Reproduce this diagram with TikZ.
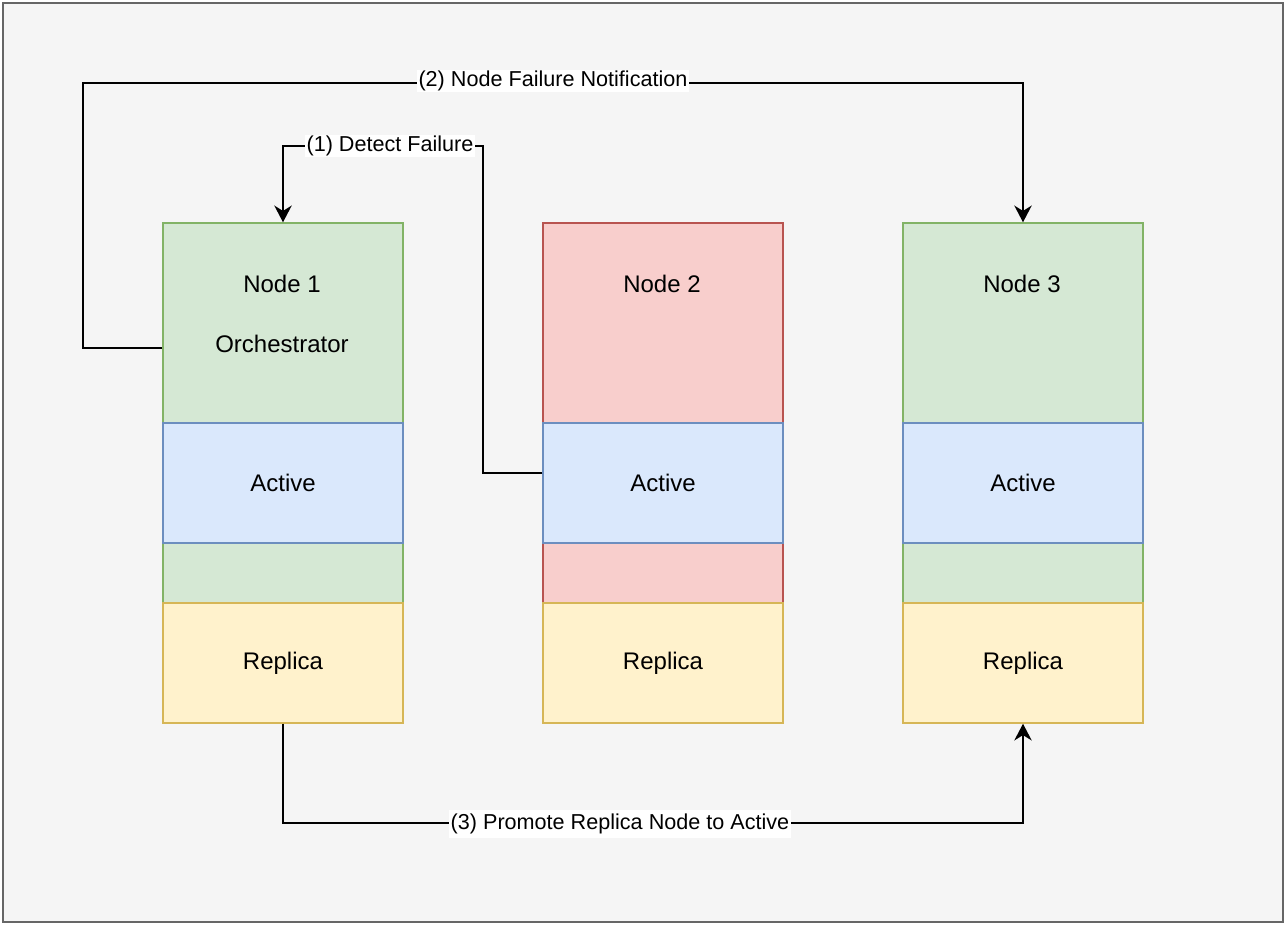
\documentclass[tikz,border=0pt]{standalone}
\usepackage{fontspec}
\setmainfont{Liberation Sans}
\usetikzlibrary{arrows.meta}
\definecolor{bgfill}{HTML}{F5F5F5}
\definecolor{bgdraw}{HTML}{666666}
\definecolor{gfill}{HTML}{D5E8D4}
\definecolor{gdraw}{HTML}{82B366}
\definecolor{bfill}{HTML}{DAE8FC}
\definecolor{bdraw}{HTML}{6C8EBF}
\definecolor{rfill}{HTML}{F8CECC}
\definecolor{rdraw}{HTML}{B85450}
\definecolor{yfill}{HTML}{FFF2CC}
\definecolor{ydraw}{HTML}{D6B656}
\tikzset{
  box/.style={rectangle, line width=1.1pt, minimum width=180pt, inner sep=0pt, font=\fontsize{18}{21}\selectfont},
  tallbox/.style={box, minimum height=285pt},
  midbox/.style={box, minimum height=90pt},
  greenbox/.style={fill=gfill, draw=gdraw},
  bluebox/.style={fill=bfill, draw=bdraw},
  redbox/.style={fill=rfill, draw=rdraw},
  yellowbox/.style={fill=yfill, draw=ydraw},
  txt/.style={inner sep=0pt, font=\fontsize{18}{21}\selectfont},
  lbl/.style={fill=white, inner sep=1pt, font=\fontsize{16.2}{19}\selectfont},
  arr/.style={line width=1.5pt, -{Stealth[length=12.5pt,width=13pt,inset=4pt]}}
}
\begin{document}
\begin{tikzpicture}[x=0.75pt,y=-0.75pt]
\useasboundingbox (0,0) rectangle (1286,926);
\fill[white] (0,0) rectangle (1286,926);
\draw[fill=bgfill, draw=bgdraw, line width=1.5pt] (3,3) rectangle (1283,922);

% Node 1
\node[tallbox, greenbox] (n1) at (283,413) {};
\node[txt] (n1t) at (282,284) {Node 1};
\node[txt] (n1o) at (282,344) {Orchestrator};
\node[midbox, bluebox] (a1) at (283,483) {Active};
\node[midbox, yellowbox] (r1) at (283,663) {Replica};

% Node 2
\node[tallbox, redbox] (n2) at (663,413) {};
\node[txt] (n2t) at (662,284) {Node 2};
\node[midbox, bluebox] (a2) at (663,483) {Active};
\node[midbox, yellowbox] (r2) at (663,663) {Replica};

% Node 3
\node[tallbox, greenbox] (n3) at (1023,413) {};
\node[txt] (n3t) at (1022,284) {Node 3};
\node[midbox, bluebox] (a3) at (1023,483) {Active};
\node[midbox, yellowbox] (r3) at (1023,663) {Replica};

% (1) Detect failure
\draw[arr] ([yshift=7.5pt]a2.west) -| (483,146) -| (n1.north);
\node[lbl] (l1) at (390,146) {(1) Detect Failure};

% (2) Node failure notification
\draw[arr] ([yshift=48.75pt]n1.west) -| (83,83) -| (n3.north);
\node[lbl] (l2) at (553,81) {(2) Node Failure Notification};

% (3) Promote replica
\draw[arr] (r1.south) |- (620,823) -| (r3.south);
\node[lbl] (l3) at (620,824) {(3) Promote Replica Node to Active\strut\ };
\end{tikzpicture}
\end{document}
